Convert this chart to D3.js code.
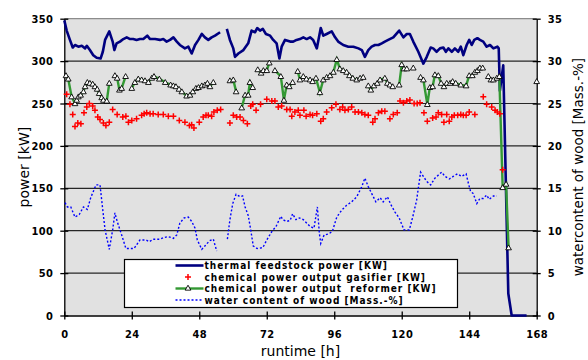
<!DOCTYPE html>
<html>
<head>
<meta charset="utf-8">
<script src="https://d3js.org/d3.v7.min.js"></script>
<style>
body { margin: 0; background: #fff; }
text { font-family: "DejaVu Sans", Verdana, sans-serif; }
</style>
</head>
<body>
<svg id="chart" width="588" height="360"></svg>
<script>

var hourTicks = [0, 24, 48, 72, 96, 120, 144, 168]
var powerTicks = [0, 50, 100, 150, 200, 250, 300, 350]
var waterTicks = [0, 5, 10, 15, 20, 25, 30, 35]
var seriesNames = [
  "thermal feedstock power [KW]",
  "chemical power output gasifier [KW]",
  "chemical power output  reformer [KW]",
  "water content of wood [Mass.-%]"
]

// [runtime h, power kW]  (null = no data)
var thermal = [
  [0,348],[0.85,336],[2.0,325],[3.0,316],[3.8,319],[5.0,317],[6.2,318],[7.4,315],[8.0,318],
  [9.1,313],[10.3,307],[11.5,304],[12.9,303],[13.7,311],[14.5,325],[16.0,335],[17.2,323],
  [17.8,313],[18.6,321],[19.8,323],[21.0,326],[22.2,328],[23.4,326],[24.5,326],[25.7,325],
  [26.9,326],[28.1,326],[29.5,330],[30.5,326],[32.3,326],[34.0,325],[35.2,326],[36.4,323],
  [37.6,325],[38.8,328],[40.0,323],[41.1,319],[42.9,315],[44.1,317],[45.3,309],[46.5,319],
  [47.7,325],[48.9,332],[50.0,328],[51.2,325],[52.4,328],[53.6,330],[55.4,334],[56.5,null],
  [57.8,338],[58.9,325],[60.1,315],[60.7,305],[61.9,309],[63.7,313],[65.4,321],[66.6,336],
  [67.8,334],[68.6,339],[69.6,336],[70.6,338],[71.7,332],[73.2,330],[74.3,325],[75.5,321],
  [76.5,303],[77.3,317],[78.5,325],[80.3,323],[81.4,323],[82.6,325],[83.8,326],[85.0,328],
  [86.2,326],[87.4,328],[88.5,325],[89.8,315],[91.2,339],[92.1,330],[93.3,332],[95.1,335],
  [96.3,328],[97.4,323],[99.2,319],[101.0,317],[102.8,317],[104.6,315],[105.8,313],[106.9,305],
  [108.1,313],[109.3,317],[110.5,319],[111.7,319],[112.9,321],[114.0,323],[115.2,325],[117.0,328],
  [119.1,336],[120.6,328],[121.8,332],[122.9,332],[124.1,323],[125.9,311],[127.7,297],[128.9,305],
  [130.3,316],[131.2,315],[132.4,311],[133.6,315],[134.8,316],[135.7,311],[136.6,315],[137.8,311],
  [138.9,315],[140.1,311],[141.0,317],[141.9,307],[143.1,319],[144.0,325],[144.9,319],[145.8,325],
  [146.9,327],[147.8,325],[149.0,323],[150.2,317],[151.4,319],[152.6,315],[154.0,317],[154.5,315],
  [154.9,265],[156.1,295],[157.9,26],[159.1,0],[164.4,0]
]

var gasifier = [
  [0.85,261],[2.0,249],[3.0,237],[3.8,223],[4.8,227],[5.9,226],[7.0,239],[8.0,246],[8.9,250],
  [10.1,247],[10.9,242],[11.9,234],[12.7,231],[13.9,227],[14.8,224],[16.0,228],[17.2,243],
  [18.8,237],[20.8,234],[21.9,235],[22.8,228],[24.0,230],[25.7,232],[27.5,236],[28.4,238],
  [29.3,239],[30.5,238],[31.6,238],[33.4,237],[35.2,237],[37.0,235],[38.8,235],[40.9,230],
  [42.9,228],[44.5,224],[45.3,225],[46.1,221],[48.0,228],[49.4,234],[50.4,236],[51.2,236],
  [52.4,235],[53.2,240],[54.4,242],[55.6,243],[58.9,227],[60.1,236],[61.3,234],[62.5,234],
  [63.7,230],[65.1,226],[66.3,247],[67.0,249],[68.2,242],[69.8,249],[72.0,255],[73.8,253],
  [74.9,253],[76.1,246],[77.3,247],[79.1,243],[80.3,243],[80.9,235],[82.0,240],[83.2,242],
  [83.8,236],[85.2,242],[86.0,235],[87.4,237],[88.3,236],[89.8,238],[91.2,229],[92.1,232],
  [93.3,240],[95.1,245],[96.6,249],[98.0,243],[99.0,246],[99.8,242],[101.0,243],[102.2,246],
  [103.4,240],[104.6,240],[105.8,239],[106.9,237],[108.1,236],[109.7,228],[110.5,232],[111.7,239],
  [112.9,241],[114.0,241],[115.8,232],[117.0,237],[118.4,239],[119.4,253],[120.6,251],[121.8,253],
  [122.9,254],[124.4,250],[125.5,250],[126.5,251],[127.9,239],[129.1,229],[131.0,233],[132.2,234],
  [133.0,239],[134.2,237],[135.0,228],[136.0,237],[136.9,229],[137.8,234],[138.7,236],[139.9,236],
  [141.0,237],[141.9,236],[142.9,236],[144.0,240],[146.0,237],[149.0,258],[150.2,249],[152.0,246],
  [153.2,242],[154.0,240],[154.9,238],[155.9,172]
]

var reformer = [
  [0.6,283],[1.4,279],[2.6,258],[3.8,250],[4.4,254],[5.0,258],[5.8,260],[6.8,264],[7.4,270],
  [8.2,275],[9.1,274],[10.1,273],[10.9,270],[11.7,267],[12.4,262],[13.3,257],[13.9,254],
  [15.1,253],[16.0,274],[17.0,null],[18.0,283],[18.8,280],[19.6,266],[20.4,268],[21.8,282],
  [23.0,null],[24.0,268],[25.1,275],[26.3,279],[27.5,278],[28.7,277],[29.9,275],[31.1,280],
  [31.9,282],[33.8,279],[35.9,275],[37.8,272],[38.8,271],[39.7,270],[40.8,267],[41.8,264],
  [43.5,259],[44.7,260],[45.7,264],[46.8,268],[47.7,269],[48.9,271],[50.0,272],[50.9,274],
  [51.8,270],[53.0,275],[56.0,null],[58.9,277],[60.1,278],[61.1,264],[62.0,null],[63.1,245],
  [64.3,260],[65.4,260],[66.0,275],[67.0,269],[68.0,null],[68.8,290],[70.0,286],[70.8,289],
  [72.0,289],[72.9,298],[74.0,null],[74.9,289],[77.0,282],[78.1,254],[79.1,272],[80.0,270],
  [81.2,275],[82.0,null],[83.0,288],[83.8,278],[85.0,282],[86.1,279],[87.4,278],[88.3,276],
  [89.5,280],[90.9,263],[92.1,278],[93.3,281],[94.5,283],[95.7,287],[96.9,302],[98.0,291],
  [99.2,289],[100.4,287],[101.4,283],[102.6,280],[104.0,278],[105.2,280],[106.3,281],[107.2,null],
  [108.1,271],[109.0,266],[110.1,271],[111.3,274],[112.3,278],[114.0,280],[114.9,274],[115.8,272],
  [116.8,270],[118.0,null],[119.1,272],[120.0,296],[120.8,291],[121.8,291],[123.0,null],[124.1,292],
  [125.4,null],[126.7,281],[127.7,278],[129.1,249],[130.0,269],[131.0,270],[131.8,284],[133.0,283],
  [134.0,274],[135.0,270],[136.0,274],[137.2,274],[138.1,276],[139.2,274],[141.0,272],[142.9,271],
  [144.0,283],[145.1,283],[146.0,287],[146.9,289],[147.8,292],[148.8,292],[149.8,null],[150.8,282],
  [151.7,278],[152.6,278],[153.8,280],[154.7,282],[155.9,151],[157.1,155],[158.0,80],[163.0,null],
  [168.0,276]
]

// [runtime h, water content Mass.-%]
var water = [
  [0.25,13.3],[1.1,12.8],[2.3,12.8],[3.8,11.6],[5.3,11.9],[6.8,12.8],[8.2,12.5],[9.4,13.9],
  [11.3,15.4],[12.7,15.4],[13.7,12.4],[14.5,10.1],[16.0,7.8],[17.2,10.1],[18.0,12.1],[18.8,11.1],
  [20.4,9.5],[21.9,7.9],[24.8,7.9],[26.9,8.9],[29.1,8.9],[30.2,8.7],[31.6,9.0],[34.0,9.0],
  [35.5,9.2],[37.0,9.3],[38.8,9.1],[40.0,9.5],[41.1,10.9],[42.6,11.5],[44.1,11.6],[45.3,11.1],
  [46.5,10.3],[47.3,8.9],[48.9,7.8],[50.0,8.2],[51.6,8.8],[53.0,9.0],[54.2,7.6],[56.0,null],
  [58.0,9.0],[58.9,11.3],[59.9,13.2],[61.1,14.3],[62.5,14.0],[63.4,14.1],[64.3,12.8],[65.4,11.8],
  [66.3,10.1],[67.2,8.2],[68.6,7.9],[70.6,8.0],[72.0,8.9],[73.8,9.9],[75.3,10.5],[77.0,11.7],
  [77.7,11.3],[79.1,11.1],[80.3,11.2],[81.2,12.0],[82.4,11.3],[83.6,11.5],[85.0,11.3],[87.4,10.5],
  [88.8,10.3],[90.0,12.8],[90.7,9.7],[91.2,8.5],[92.4,9.5],[93.9,9.6],[95.3,9.9],[96.9,11.6],
  [98.6,12.4],[100.4,13.0],[102.2,13.4],[104.0,14.0],[105.8,15.2],[106.9,16.2],[108.1,15.2],
  [109.3,14.4],[110.8,13.4],[112.3,13.9],[113.4,13.4],[114.9,14.0],[116.1,13.1],[117.6,12.2],
  [119.1,11.5],[120.8,10.1],[122.7,10.1],[123.9,11.6],[125.3,13.6],[126.7,16.9],[128.9,15.8],
  [130.3,15.4],[131.8,16.2],[134.2,16.9],[135.4,16.4],[136.9,16.1],[138.3,16.4],[139.8,16.7],
  [141.3,16.4],[142.9,16.7],[143.7,15.6],[144.5,14.6],[145.4,14.4],[146.7,13.2],[147.8,13.8],
  [149.0,13.8],[150.2,14.2],[151.1,13.7],[152.6,14.1],[153.8,14.1]
]

var svg = d3.select('#chart')

var x = d3.scaleLinear().domain([0, 168]).range([64.3, 536.7])
var y = d3.scaleLinear().domain([0, 350]).range([315.5, 18.7])
var y2 = d3.scaleLinear().domain([0, 35]).range([315.5, 18.7])

// plot area
svg.append('rect')
  .attr('x', x(0)).attr('y', y(350))
  .attr('width', x(168) - x(0)).attr('height', y(0) - y(350))
  .attr('fill', '#e1e1e1')

svg.append('line')
  .attr('x1', x(0)).attr('x2', x(168))
  .attr('y1', y(350)).attr('y2', y(350))
  .attr('stroke', '#8c8c8c').attr('stroke-width', 1.2)

svg.selectAll('.grid')
  .data(powerTicks.filter(d => d > 0 && d < 350))
  .enter().append('line')
  .attr('class', 'grid')
  .attr('x1', x(0)).attr('x2', x(168))
  .attr('y1', d => y(d)).attr('y2', d => y(d))
  .attr('stroke', '#262626').attr('stroke-width', 1.2)

function styleAxis(g, vertical) {
  g.select('.domain').attr('stroke', '#000').attr('stroke-width', 1.3)
  g.selectAll('.tick line').attr('stroke', '#000').attr('stroke-width', 1.3)
  if (vertical) g.selectAll('.tick line').attr('x1', 4)
  else g.selectAll('.tick line').attr('y1', -4)
  g.selectAll('text')
    .style('font-family', '"DejaVu Sans Condensed", "DejaVu Sans", sans-serif')
    .style('font-weight', 'bold')
    .style('font-size', '11px')
    .style('letter-spacing', '0.4px')
    .attr('fill', '#000')
}

svg.append('g')
  .attr('transform', `translate(${x(0)},0)`)
  .call(d3.axisLeft(y).tickValues(powerTicks).tickSize(4).tickSizeOuter(0).tickPadding(7))
  .call(g => styleAxis(g, true))

svg.append('g')
  .attr('transform', `translate(${x(168)},0)`)
  .call(d3.axisRight(y2).tickValues(waterTicks).tickSize(4).tickSizeOuter(0).tickPadding(7))
  .call(g => { styleAxis(g, true); g.selectAll('.tick line').attr('x1', -4) })

svg.append('g')
  .attr('transform', `translate(0,${y(0)})`)
  .call(d3.axisBottom(x).tickValues(hourTicks).tickSize(4).tickSizeOuter(0).tickPadding(11))
  .call(g => styleAxis(g, false))

// axis titles
svg.append('text')
  .attr('transform', `translate(29,${(y(0) + y(350)) / 2}) rotate(-90)`)
  .attr('text-anchor', 'middle')
  .style('font-size', '14px')
  .text('power [kW]')

svg.append('text')
  .attr('transform', `translate(583,${(y(0) + y(350)) / 2}) rotate(-90)`)
  .attr('text-anchor', 'middle')
  .style('font-size', '13.5px')
  .text('watercontent of wood [Mass.-%]')

svg.append('text')
  .attr('x', (x(0) + x(168)) / 2)
  .attr('y', 356)
  .attr('text-anchor', 'middle')
  .style('font-size', '14px')
  .text('runtime [h]')

// series
var line = d3.line()
  .defined(d => d[1] !== null)
  .x(d => x(d[0]))
  .y(d => y(d[1]))

var waterLine = d3.line()
  .defined(d => d[1] !== null)
  .x(d => x(d[0]))
  .y(d => y2(d[1]))

svg.append('path')
  .datum(water)
  .attr('d', waterLine)
  .attr('fill', 'none')
  .attr('stroke', '#0000ff')
  .attr('stroke-width', 1.4)
  .attr('stroke-dasharray', '2,2')

svg.append('path')
  .datum(thermal)
  .attr('d', line)
  .attr('fill', 'none')
  .attr('stroke', '#000080')
  .attr('stroke-width', 2.6)
  .attr('stroke-linejoin', 'round')

svg.append('path')
  .datum(reformer)
  .attr('d', line)
  .attr('fill', 'none')
  .attr('stroke', '#339933')
  .attr('stroke-width', 2.4)

var plus = 'M-3,0H3M0,-3V3'
var tri = d3.symbol(d3.symbolTriangle, 14)

svg.selectAll('.gas')
  .data(gasifier)
  .enter().append('path')
  .attr('class', 'gas')
  .attr('d', plus)
  .attr('transform', d => `translate(${x(d[0])},${y(d[1])})`)
  .attr('stroke', '#ff0000')
  .attr('stroke-width', 1.5)

svg.selectAll('.ref')
  .data(reformer.filter(d => d[1] !== null))
  .enter().append('path')
  .attr('class', 'ref')
  .attr('d', tri)
  .attr('transform', d => `translate(${x(d[0])},${y(d[1]) + 0.5})`)
  .attr('fill', '#fff')
  .attr('stroke', '#000')
  .attr('stroke-width', 0.9)

// legend
var legend = svg.append('g').attr('transform', 'translate(124.5,259.5)')

legend.append('rect')
  .attr('width', 333).attr('height', 48)
  .attr('fill', '#fff').attr('stroke', '#000').attr('stroke-width', 1.2)

var rowY = [6, 17.5, 29, 40.5]

legend.append('line')
  .attr('x1', 51).attr('x2', 79).attr('y1', rowY[0]).attr('y2', rowY[0])
  .attr('stroke', '#000080').attr('stroke-width', 2.6)

legend.append('path')
  .attr('d', plus)
  .attr('transform', `translate(63.5,${rowY[1]})`)
  .attr('stroke', '#ff0000').attr('stroke-width', 1.5)

legend.append('line')
  .attr('x1', 51).attr('x2', 79).attr('y1', rowY[2]).attr('y2', rowY[2])
  .attr('stroke', '#339933').attr('stroke-width', 2.4)

legend.append('path')
  .attr('d', tri)
  .attr('transform', `translate(63.5,${rowY[2]})`)
  .attr('fill', '#fff').attr('stroke', '#000').attr('stroke-width', 0.9)

legend.append('line')
  .attr('x1', 51).attr('x2', 79).attr('y1', rowY[3]).attr('y2', rowY[3])
  .attr('stroke', '#0000ff').attr('stroke-width', 1.6).attr('stroke-dasharray', '2,2')

legend.selectAll('.ltext')
  .data(seriesNames)
  .enter().append('text')
  .attr('class', 'ltext')
  .attr('x', 80)
  .attr('y', (d, i) => rowY[i] + 3.8)
  .attr('xml:space', 'preserve')
  .style('white-space', 'pre')
  .style('font-family', '"DejaVu Sans Condensed", "DejaVu Sans", sans-serif')
  .style('font-weight', 'bold')
  .style('font-size', '10px')
  .style('letter-spacing', '1px')
  .text(d => d)

</script>
</body>
</html>
